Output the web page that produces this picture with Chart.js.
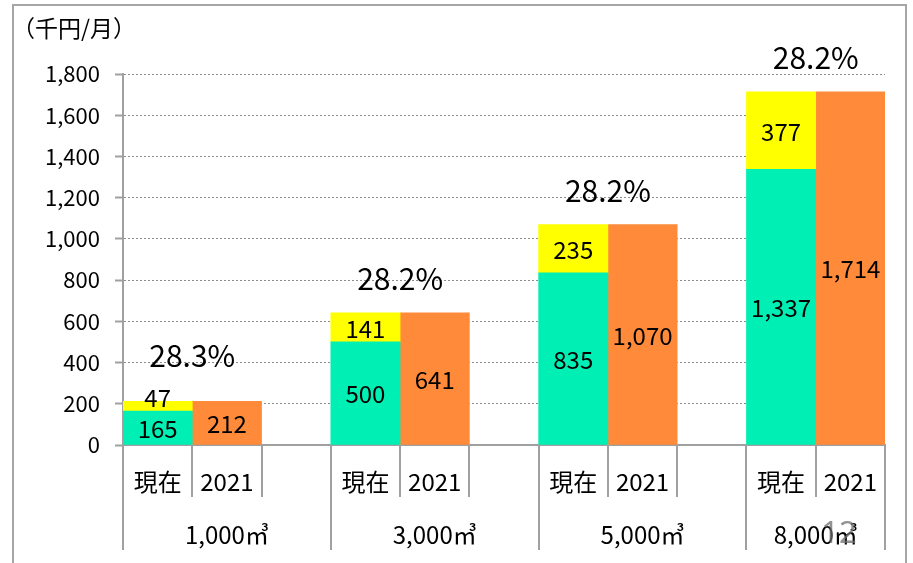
<!DOCTYPE html>
<html>
<head>
<meta charset="utf-8">
<script src="https://cdn.jsdelivr.net/npm/chart.js@4"></script>
<style>
  html, body { margin: 0; padding: 0; background: #fff; }
  #wrap { position: relative; width: 913px; height: 563px; overflow: hidden; }
  #frame {
    position: absolute; left: 12px; top: 4px; width: 895px; height: 600px;
    border: 2px solid #a6a6a6; box-sizing: border-box;
  }
  canvas { position: absolute; left: 0; top: 0; }
</style>
</head>
<body>
<div id="wrap">
  <div id="frame"></div>
  <canvas id="c" width="913" height="563"></canvas>
</div>
<script>
'use strict';

// ── Data ─────────────────────────────────────────────────────────
const groupLabels = ['1,000㎥', '3,000㎥', '5,000㎥', '8,000㎥'];
const barLabels   = ['現在', '2021'];
const nowBase     = [165, 500, 835, 1337];   // green
const nowExtra    = [47, 141, 235, 377];     // yellow
const future2021  = [212, 641, 1070, 1714];  // orange
const rateLabels  = ['28.3%', '28.2%', '28.2%', '28.2%'];
const yMax = 1800, yStep = 200;
const unitLabel = '（千円/月）';
const pageNo = '12';

const FONT = '"Noto Sans CJK JP", "Noto Sans", sans-serif';
const GREEN = '#00EFB4', YELLOW = '#FFFF00', ORANGE = '#FF8A3A';
const AXIS = '#a0a0a0';

// each group = [現在, 2021, gap]; last group has no gap
const slots = [];
groupLabels.forEach((g, gi) => {
  slots.push(barLabels[0], barLabels[1]);
  if (gi < groupLabels.length - 1) slots.push('');
});
const slotOf = (gi, k) => gi * 3 + k;

function spread(values, k) {
  const out = slots.map(() => null);
  values.forEach((v, gi) => { out[slotOf(gi, k)] = v; });
  return out;
}

// ── Plugin: labels, separators, group captions ───────────────────
const decor = {
  id: 'decor',
  afterDatasetsDraw(chart) {
    const { ctx } = chart;
    const x = chart.scales.x, y = chart.scales.y;
    ctx.save();
    ctx.fillStyle = '#000';
    ctx.textAlign = 'center';
    ctx.textBaseline = 'middle';

    // values inside segments (thin segments push the label up a bit)
    ctx.font = '24px ' + FONT;
    const topLabelY = slots.map(() => Infinity);
    chart.data.datasets.forEach((ds, di) => {
      const meta = chart.getDatasetMeta(di);
      meta.data.forEach((el, i) => {
        const v = ds.data[i];
        if (v == null) return;
        const small = Math.abs(el.base - el.y) < 20;
        const cy = (el.y + el.base) / 2 + (small ? -8 : 1);
        topLabelY[i] = Math.min(topLabelY[i], cy);
        ctx.fillText(v.toLocaleString('en-US'), el.x, cy);
      });
    });

    // rate above each group
    ctx.font = '30px ' + FONT;
    rateLabels.forEach((r, gi) => {
      const s = slotOf(gi, 0);
      const cx = x.getPixelForValue(s + 0.5);
      const top = y.getPixelForValue(nowBase[gi] + nowExtra[gi]);
      ctx.fillText(r, cx, Math.min(top - 34, topLabelY[s] - 43));
    });

    // category separators (short between bars, long between groups)
    ctx.strokeStyle = AXIS;
    ctx.lineWidth = 2;
    const y0 = chart.chartArea.bottom;
    for (let i = 0; i <= slots.length; i++) {
      const px = Math.round(x.getPixelForValue(i - 0.5));
      const isGroupEdge = i % 3 === 0 || i === slots.length;
      ctx.beginPath();
      ctx.moveTo(px, y0);
      ctx.lineTo(px, isGroupEdge ? y0 + 105 : y0 + 52);
      ctx.stroke();
    }

    // group captions
    ctx.font = '24px ' + FONT;
    groupLabels.forEach((g, gi) => {
      const first = slotOf(gi, 0);
      const last = gi < groupLabels.length - 1 ? first + 2 : first + 1;
      const l = x.getPixelForValue(first - 0.5);
      const r = x.getPixelForValue(last + 0.5);
      ctx.fillText(g, (l + r) / 2, y0 + 90);
    });

    // unit label
    ctx.textAlign = 'left';
    ctx.font = '23px ' + FONT;
    ctx.fillText(unitLabel, 12, 28);

    // page number
    ctx.textAlign = 'center';
    ctx.font = '31px "Noto Sans", sans-serif';
    ctx.fillStyle = 'rgba(110,110,110,0.75)';
    ctx.fillText(pageNo, 839, 534);
    ctx.restore();
  },
};

new Chart(document.getElementById('c').getContext('2d'), {
  type: 'bar',
  data: {
    labels: slots,
    datasets: [
      { label: '現在', data: spread(nowBase, 0), backgroundColor: GREEN },
      { label: '増加', data: spread(nowExtra, 0), backgroundColor: YELLOW },
      { label: '2021', data: spread(future2021, 1), backgroundColor: ORANGE },
    ],
  },
  options: {
    responsive: false,
    animation: false,
    devicePixelRatio: 1,
    layout: { padding: { top: 74, right: 28, left: 0, bottom: 0 } },
    datasets: { bar: { barPercentage: 1, categoryPercentage: 1, borderWidth: 0 } },
    plugins: { legend: { display: false }, tooltip: { enabled: false } },
    scales: {
      x: {
        stacked: true,
        afterFit: s => { s.height = 118; },
        grid: { display: true, drawOnChartArea: false, drawTicks: false },
        border: { display: true, color: AXIS, width: 2 },
        ticks: { color: '#000', font: { family: FONT, size: 24 }, padding: 22, maxRotation: 0, autoSkip: false },
      },
      y: {
        stacked: true,
        min: 0,
        max: yMax,
        afterFit: s => { s.width = 123; },
        grid: { color: '#8c8c8c', lineWidth: 1, tickLength: 8, tickColor: AXIS, tickWidth: 2 },
        border: { display: true, color: AXIS, width: 2, dash: [2, 2] },
        ticks: {
          stepSize: yStep,
          color: '#000',
          padding: 15,
          font: { family: FONT, size: 22 },
          callback: v => v.toLocaleString('en-US'),
        },
      },
    },
  },
  plugins: [decor],
});
</script>
</body>
</html>
